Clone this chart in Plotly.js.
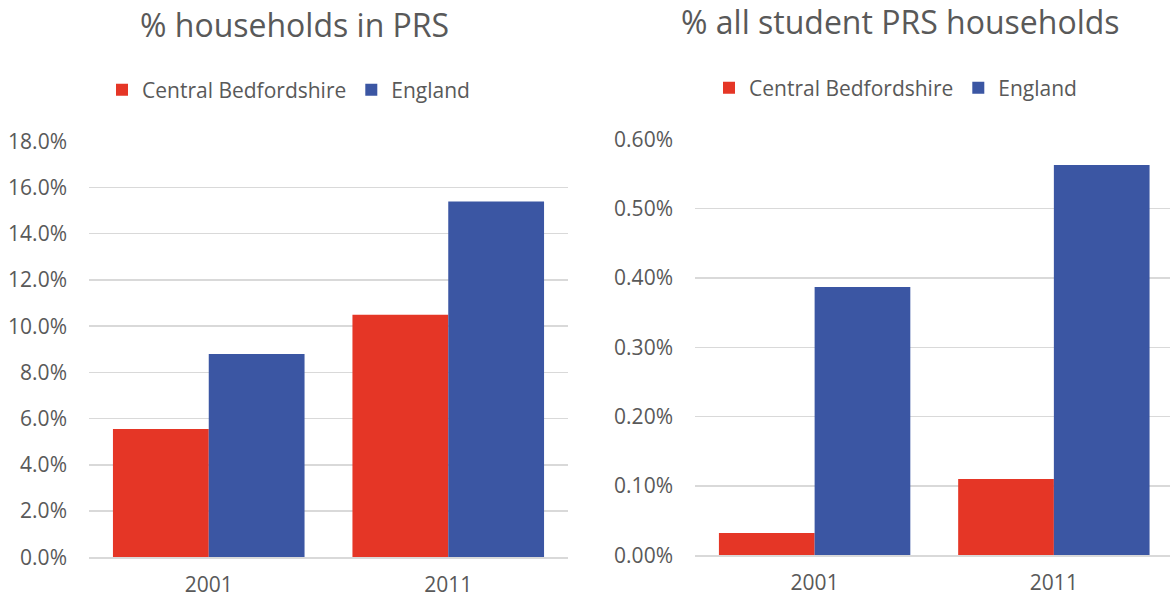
<!DOCTYPE html>
<html>
<head>
<meta charset="utf-8">
<script src="https://cdn.plot.ly/plotly-3.0.1.min.js"></script>
<style>html,body{margin:0;padding:0;background:#fff}#chart{width:1170px;height:598px}</style>
</head>
<body>
<div id="chart"></div>
<script>
// ---- data ----
var years = ['2001', '2011'];
var seriesNames = ['Central Bedfordshire', 'England'];
var prsCentralBeds = [5.55, 10.5];
var prsEngland = [8.8, 15.4];
var studentCentralBeds = [0.032, 0.110];
var studentEngland = [0.387, 0.563];
var leftTicks = [0, 2, 4, 6, 8, 10, 12, 14, 16, 18];
var rightTicks = [0, 0.1, 0.2, 0.3, 0.4, 0.5, 0.6];
var titles = ['% households in PRS', '% all student PRS households'];

var RED = '#E53626', BLUE = '#3B56A3', GREY = '#595959', GRID = '#D9D9D9';
var FONT = 'Open Sans, sans-serif';
var W = 1170, H = 598;
function px(x) { return x / W; }
function py(y) { return (H - y) / H; }

var traces = [
  {type: 'bar', x: years, y: prsCentralBeds, name: seriesNames[0], marker: {color: RED}, xaxis: 'x', yaxis: 'y', legend: 'legend'},
  {type: 'bar', x: years, y: prsEngland, name: seriesNames[1], marker: {color: BLUE}, xaxis: 'x', yaxis: 'y', legend: 'legend'},
  {type: 'bar', x: years, y: studentCentralBeds, name: seriesNames[0], marker: {color: RED}, xaxis: 'x2', yaxis: 'y2', legend: 'legend2'},
  {type: 'bar', x: years, y: studentEngland, name: seriesNames[1], marker: {color: BLUE}, xaxis: 'x2', yaxis: 'y2', legend: 'legend2'}
];
traces.forEach(function (t) { t.hoverinfo = 'none'; });

var tickFont = {family: FONT, size: 21, color: GREY};
function yax(domain, anchor, ticks, fmt) {
  return {
    domain: domain, anchor: anchor, range: [ticks[0], ticks[ticks.length - 1]], tickvals: ticks,
    ticktext: ticks.map(function (v) { return v.toFixed(fmt) + '%'; }),
    showgrid: true, gridcolor: GRID, gridwidth: 1.5, zeroline: false, showline: false,
    ticks: '', tickfont: tickFont, ticklabelstandoff: 21, fixedrange: true
  };
}
function xax(domain, anchor, range) {
  return {
    domain: domain, anchor: anchor, type: 'category', range: range,
    showline: true, linecolor: GRID, linewidth: 1.5, ticks: '', showgrid: false,
    tickfont: tickFont, ticklabelstandoff: 8, fixedrange: true
  };
}

var layout = {
  width: W, height: H,
  margin: {l: 0, r: 0, t: 0, b: 0},
  paper_bgcolor: '#fff', plot_bgcolor: '#fff',
  barmode: 'group', bargap: 0.2, bargroupgap: 0,
  font: {family: FONT, color: GREY},
  xaxis: xax([px(89), px(568)], 'y', [-0.5, 1.5]),
  yaxis: yax([py(557.3), py(141.3)], 'x', leftTicks, 1),
  xaxis2: xax([px(695), 1], 'y2', [-0.5, 1.4854]),
  yaxis2: yax([py(555.3), py(139.3)], 'x2', rightTicks, 2),
  legend: {orientation: 'h', x: px(102), y: py(90), xanchor: 'left', yanchor: 'middle',
           font: {family: FONT, size: 21, color: GREY}, bgcolor: 'rgba(0,0,0,0)', traceorder: 'normal'},
  legend2: {orientation: 'h', x: px(709), y: py(88), xanchor: 'left', yanchor: 'middle',
           font: {family: FONT, size: 21, color: GREY}, bgcolor: 'rgba(0,0,0,0)', traceorder: 'normal'},
  annotations: [
    {text: titles[0], xref: 'paper', yref: 'paper', x: px(294), y: py(25), xanchor: 'center', yanchor: 'middle',
     showarrow: false, font: {family: FONT, size: 32, color: GREY}},
    {text: titles[1], xref: 'paper', yref: 'paper', x: px(900), y: py(22), xanchor: 'center', yanchor: 'middle',
     showarrow: false, font: {family: FONT, size: 32, color: GREY}}
  ]
};

Plotly.newPlot('chart', traces, layout, {displayModeBar: false, staticPlot: true});
</script>
</body>
</html>
